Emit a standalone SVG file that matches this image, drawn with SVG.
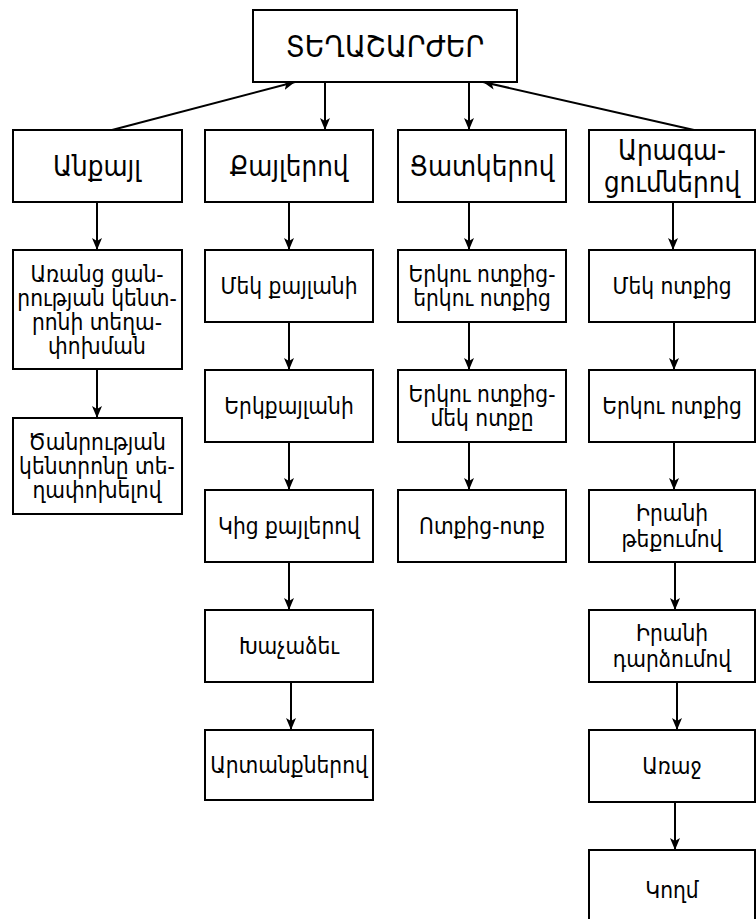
<svg xmlns="http://www.w3.org/2000/svg" width="756" height="919" viewBox="0 0 756 919">
<defs>
<marker id="ah" viewBox="0 0 12 10" refX="12" refY="5" markerWidth="12" markerHeight="10" markerUnits="userSpaceOnUse" orient="auto">
<path d="M0,0 L12,5 L0,10 L3,5 Z" fill="#000"/>
</marker>
<style>
.b{fill:#fff;stroke:#000;stroke-width:2}
.t{font-family:"DejaVu Sans Condensed","DejaVu Sans",sans-serif;font-stretch:condensed;fill:#000;text-anchor:middle;dominant-baseline:central}
.tt{font-size:30px}
.l1{font-size:27.5px}
.in{font-size:22.5px}
.c{stroke:#000;stroke-width:2;fill:none;marker-end:url(#ah)}
</style>
</defs>
<rect width="756" height="919" fill="#fff"/>
<g id="connectors">
<line class="c" x1="112" y1="130" x2="295" y2="82"/>
<line class="c" x1="325" y1="82" x2="325" y2="130"/>
<line class="c" x1="469" y1="82" x2="469" y2="130"/>
<line class="c" x1="694" y1="130" x2="483" y2="82"/>
<line class="c" x1="97" y1="202" x2="97" y2="250"/>
<line class="c" x1="97" y1="369" x2="97" y2="418"/>
<line class="c" x1="289" y1="202" x2="289" y2="250"/>
<line class="c" x1="289" y1="322" x2="289" y2="370"/>
<line class="c" x1="289" y1="442" x2="289" y2="490"/>
<line class="c" x1="289" y1="562" x2="289" y2="610"/>
<line class="c" x1="291" y1="682" x2="291" y2="730"/>
<line class="c" x1="469" y1="202" x2="469" y2="250"/>
<line class="c" x1="469" y1="322" x2="469" y2="370"/>
<line class="c" x1="469" y1="442" x2="469" y2="490"/>
<line class="c" x1="673" y1="202" x2="673" y2="250"/>
<line class="c" x1="674" y1="322" x2="674" y2="370"/>
<line class="c" x1="674" y1="442" x2="674" y2="490"/>
<line class="c" x1="675" y1="562" x2="675" y2="610"/>
<line class="c" x1="677" y1="682" x2="677" y2="730"/>
<line class="c" x1="675" y1="802" x2="675" y2="850"/>
</g>
<g id="root"><rect class="b" x="253" y="10" width="264" height="72"/><text class="t tt" x="385" y="46">ՏԵՂԱՇԱՐԺԵՐ</text></g>
<g id="anqayl"><rect class="b" x="13" y="130" width="169" height="72"/><text class="t l1" x="97" y="166">Անքայլ</text></g>
<g id="qaylerov"><rect class="b" x="205" y="130" width="168" height="72"/><text class="t l1" x="289" y="166">Քայլերով</text></g>
<g id="tsatkerov"><rect class="b" x="398" y="130" width="168" height="72"/><text class="t l1" x="482" y="166">Ցատկերով</text></g>
<g id="aragatsumnerov"><rect class="b" x="589" y="130" width="166" height="72"/><text class="t l1" x="672" y="150">Արագա-</text><text class="t l1" x="672" y="182">ցումներով</text></g>
<g id="arants"><rect class="b" x="13" y="250" width="169" height="119"/><text class="t in" x="97" y="274">Առանց ցան-</text><text class="t in" x="97" y="298">րության կենտ-</text><text class="t in" x="97" y="322">րոնի տեղա-</text><text class="t in" x="97" y="346">փոխման</text></g>
<g id="tsanrutyan"><rect class="b" x="13" y="418" width="169" height="96"/><text class="t in" x="97" y="442">Ծանրության</text><text class="t in" x="97" y="466">կենտրոնը տե-</text><text class="t in" x="97" y="490">ղափոխելով</text></g>
<g id="mek-qaylani"><rect class="b" x="205" y="250" width="168" height="72"/><text class="t in" x="289" y="286">Մեկ քայլանի</text></g>
<g id="erkqaylani"><rect class="b" x="205" y="370" width="168" height="72"/><text class="t in" x="289" y="406">Երկքայլանի</text></g>
<g id="kits"><rect class="b" x="205" y="490" width="168" height="72"/><text class="t in" x="289" y="526">Կից քայլերով</text></g>
<g id="khachadzev"><rect class="b" x="205" y="610" width="168" height="72"/><text class="t in" x="289" y="646">Խաչաձեւ</text></g>
<g id="artanqnerov"><rect class="b" x="205" y="730" width="168" height="70"/><text class="t in" x="289" y="765">Արտանքներով</text></g>
<g id="erku-erku"><rect class="b" x="398" y="250" width="168" height="72"/><text class="t in" x="482" y="274">Երկու ոտքից-</text><text class="t in" x="482" y="298">երկու ոտքից</text></g>
<g id="erku-mek"><rect class="b" x="398" y="370" width="168" height="72"/><text class="t in" x="482" y="394">Երկու ոտքից-</text><text class="t in" x="482" y="418">մեկ ոտքը</text></g>
<g id="votqits-votq"><rect class="b" x="398" y="490" width="168" height="72"/><text class="t in" x="482" y="526">Ոտքից-ոտք</text></g>
<g id="mek-votqits"><rect class="b" x="589" y="250" width="166" height="72"/><text class="t in" x="672" y="286">Մեկ ոտքից</text></g>
<g id="erku-votqits"><rect class="b" x="589" y="370" width="166" height="72"/><text class="t in" x="672" y="406">Երկու ոտքից</text></g>
<g id="tequmov"><rect class="b" x="589" y="490" width="166" height="72"/><text class="t in" x="672" y="513">Իրանի</text><text class="t in" x="672" y="539">թեքումով</text></g>
<g id="dardzumov"><rect class="b" x="589" y="610" width="166" height="72"/><text class="t in" x="672" y="633">Իրանի</text><text class="t in" x="672" y="659">դարձումով</text></g>
<g id="araj"><rect class="b" x="589" y="730" width="166" height="72"/><text class="t in" x="672" y="766">Առաջ</text></g>
<g id="koghm"><rect class="b" x="589" y="850" width="166" height="80"/><text class="t in" x="672" y="890">Կողմ</text></g>
</svg>
